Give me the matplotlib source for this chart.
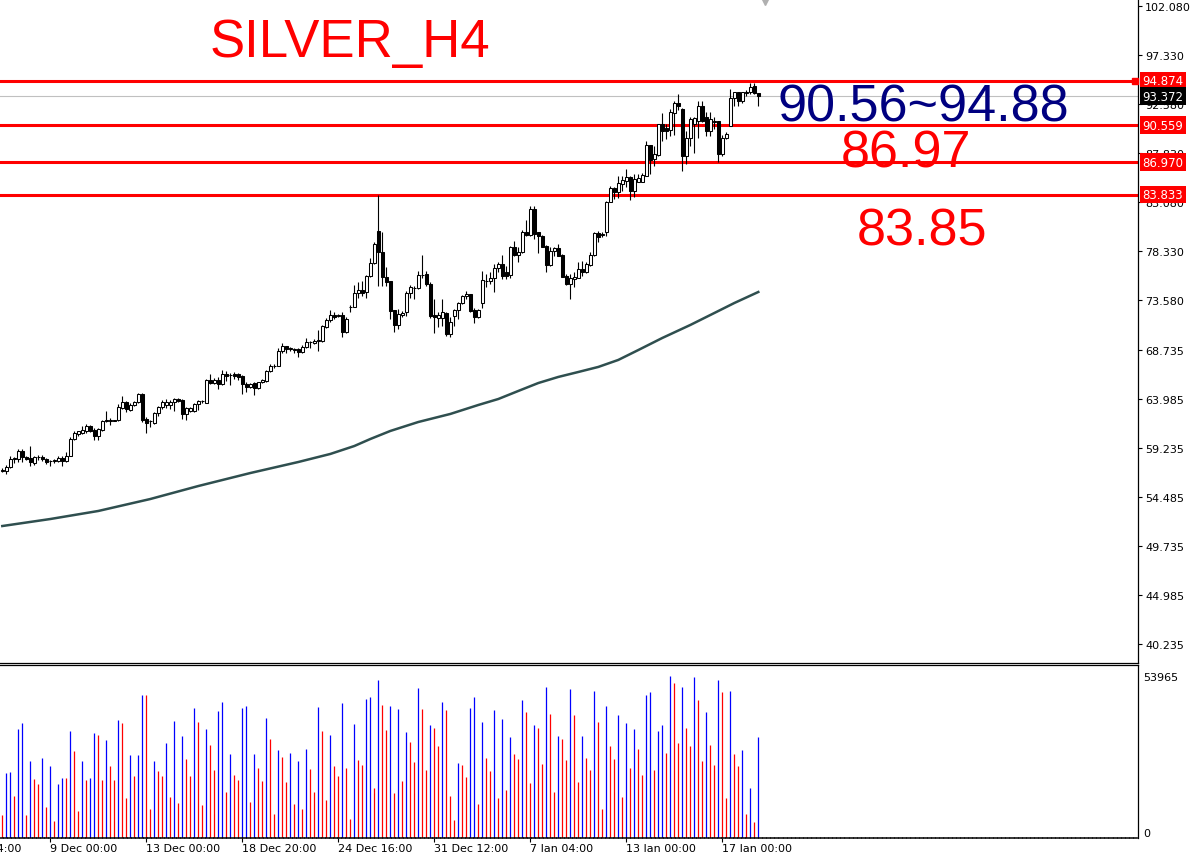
import numpy as np
import matplotlib.pyplot as plt
import matplotlib.transforms as mtransforms

# Candles H4 (open, high, low, close)
opens = [57.05, 56.98, 57.37, 58.20, 58.15, 59.00, 58.40, 58.27, 57.83, 58.35,
         58.40, 58.20, 57.98, 57.95, 58.00, 58.30, 57.98, 58.46, 60.10, 60.60,
         60.73, 60.90, 61.40, 61.05, 60.47, 61.05, 61.90, 61.90, 61.93, 61.93,
         63.10, 63.70, 62.98, 63.40, 63.70, 64.50, 62.10, 61.90, 61.70, 62.65,
         63.20, 63.44, 63.40, 63.70, 64.00, 63.95, 62.60, 62.83, 62.83, 63.50,
         63.77, 63.67, 65.86, 65.57, 65.86, 65.47, 66.45, 66.30, 66.48, 66.45,
         66.22, 65.47, 65.15, 65.57, 65.06, 65.63, 65.80, 66.77, 67.18, 67.25,
         68.64, 69.13, 68.90, 68.78, 68.86, 68.54, 69.10, 69.50, 69.41, 69.66,
         69.67, 71.03, 71.71, 72.20, 72.08, 72.16, 70.55, 72.90, 72.97, 74.26,
         74.58, 74.36, 75.91, 77.17, 80.34, 78.30, 75.87, 75.49, 72.64, 71.22,
         72.20, 72.42, 74.26, 74.80, 74.75, 76.00, 76.13, 75.17, 72.16, 71.83,
         71.83, 72.35, 70.32, 72.09, 72.64, 73.32, 73.97, 74.20, 72.64, 71.93,
         73.32, 75.46, 75.42, 75.74, 76.72, 77.10, 76.36, 76.04, 78.78, 78.01,
         78.24, 80.17, 79.92, 82.44, 80.17, 79.85, 78.88, 77.04, 78.33, 78.66,
         77.98, 75.97, 75.20, 75.65, 75.74, 76.62, 76.30, 77.04, 77.98, 80.11,
         79.92, 80.24, 83.15, 84.44, 84.12, 84.86, 85.19, 85.57, 84.22, 85.09,
         85.09, 85.67, 88.65, 87.29, 87.68, 90.68, 90.26, 90.13, 91.75, 92.72,
         92.14, 87.61, 89.29, 90.68, 91.00, 92.40, 91.33, 90.04, 90.90, 91.00,
         87.77, 89.29, 90.52, 93.17, 93.75, 92.95, 93.72, 93.75, 94.34, 93.69]
highs = [57.30, 57.63, 58.53, 58.40, 59.20, 59.20, 58.50, 59.50, 58.50, 58.55,
         58.55, 58.25, 58.10, 58.20, 58.45, 58.45, 58.85, 60.30, 60.86, 60.95,
         61.44, 61.60, 61.50, 61.18, 61.18, 61.97, 62.83, 62.15, 61.97, 63.54,
         64.30, 63.86, 63.60, 63.86, 64.60, 64.60, 62.25, 61.97, 62.73, 63.38,
         63.95, 64.00, 63.95, 64.10, 64.10, 64.00, 63.20, 63.20, 63.60, 63.95,
         63.95, 65.96, 66.45, 66.00, 66.10, 66.86, 66.77, 66.54, 66.67, 66.54,
         66.35, 65.70, 65.57, 65.70, 65.70, 65.96, 66.86, 67.40, 67.37, 68.96,
         69.45, 69.19, 69.10, 68.96, 68.96, 69.26, 69.93, 69.67, 69.83, 70.74,
         71.19, 71.84, 72.65, 72.42, 72.26, 72.49, 71.94, 73.13, 75.07, 75.39,
         75.49, 76.04, 77.66, 79.21, 83.80, 80.20, 76.78, 75.49, 72.64, 72.74,
         72.50, 74.52, 75.07, 75.00, 76.39, 77.98, 76.39, 75.32, 73.71, 72.48,
         73.71, 72.42, 71.93, 72.74, 73.45, 74.10, 74.45, 74.20, 72.80, 72.74,
         76.39, 76.13, 76.36, 77.10, 77.26, 78.01, 76.88, 78.88, 79.30, 78.72,
         80.43, 81.40, 82.76, 82.70, 80.24, 79.92, 78.95, 78.72, 78.78, 79.04,
         78.08, 76.13, 76.13, 76.36, 77.33, 77.43, 77.26, 78.24, 80.17, 80.34,
         80.17, 83.25, 84.64, 84.54, 85.67, 85.67, 86.32, 85.67, 85.83, 85.83,
         85.90, 89.07, 88.65, 88.58, 90.68, 91.72, 90.68, 92.14, 92.94, 93.59,
         92.20, 90.00, 91.33, 91.39, 92.90, 92.90, 91.80, 91.80, 91.33, 91.00,
         89.61, 89.87, 94.08, 93.82, 93.82, 93.82, 94.00, 94.66, 94.66, 93.69]
lows = [56.90, 56.76, 57.30, 57.85, 57.90, 57.90, 58.10, 57.50, 57.60, 58.05,
        57.95, 57.70, 57.55, 57.80, 57.90, 57.55, 57.90, 58.44, 60.00, 60.45,
        60.63, 60.73, 60.80, 59.99, 59.99, 60.95, 61.76, 61.45, 61.85, 61.86,
        63.05, 62.73, 62.80, 63.30, 63.63, 61.80, 60.70, 61.28, 61.60, 62.35,
        63.05, 63.10, 63.05, 62.80, 63.70, 62.08, 61.98, 62.73, 62.73, 62.95,
        63.63, 63.60, 65.47, 65.47, 64.99, 65.38, 65.80, 65.38, 65.96, 65.90,
        64.50, 64.73, 65.06, 64.44, 64.99, 65.54, 65.70, 66.60, 66.99, 67.19,
        68.48, 68.48, 68.64, 68.45, 68.06, 68.48, 68.96, 68.96, 69.35, 68.70,
        69.58, 70.93, 71.45, 71.77, 71.93, 70.00, 70.38, 72.42, 72.90, 73.78,
        74.03, 73.78, 75.81, 77.10, 74.94, 75.00, 75.00, 71.77, 70.48, 70.80,
        72.00, 72.03, 73.78, 73.70, 74.68, 75.71, 75.00, 71.83, 70.41, 70.96,
        71.06, 70.16, 70.00, 71.12, 71.77, 73.23, 73.71, 72.42, 71.38, 71.83,
        72.83, 74.84, 75.17, 74.42, 76.30, 75.65, 75.65, 75.74, 77.91, 77.33,
        78.17, 79.85, 79.85, 79.53, 78.17, 78.72, 76.30, 76.94, 77.91, 77.85,
        75.81, 75.07, 73.71, 74.84, 75.71, 75.97, 76.20, 76.88, 77.91, 79.20,
        79.70, 79.79, 83.09, 83.41, 83.47, 84.22, 84.54, 83.35, 83.57, 85.03,
        85.03, 85.61, 85.83, 86.64, 87.61, 89.07, 89.23, 89.55, 89.62, 92.00,
        86.16, 86.80, 88.58, 87.90, 89.30, 90.90, 89.55, 89.55, 90.20, 86.97,
        87.61, 89.23, 90.50, 92.46, 92.46, 92.72, 93.43, 93.59, 93.59, 92.46]
closes = [57.10, 57.40, 58.21, 58.25, 59.00, 58.37, 58.20, 57.90, 58.37, 58.40,
          58.17, 57.90, 58.02, 58.10, 58.30, 57.98, 58.46, 60.15, 60.70, 60.86,
          61.05, 61.44, 60.92, 60.40, 61.10, 61.90, 61.95, 61.93, 61.90, 63.20,
          63.70, 63.05, 63.43, 63.76, 64.50, 62.00, 61.70, 61.85, 62.65, 63.20,
          63.76, 63.76, 63.76, 64.00, 63.86, 62.57, 63.10, 63.15, 63.54, 63.86,
          63.80, 65.86, 65.57, 65.86, 65.47, 66.45, 66.22, 66.35, 66.25, 66.12,
          65.47, 65.15, 65.47, 65.06, 65.63, 65.86, 66.77, 67.25, 67.24, 68.64,
          69.13, 68.86, 68.94, 68.82, 68.54, 69.10, 69.51, 69.52, 69.67, 69.70,
          71.06, 71.71, 72.20, 72.00, 72.12, 70.55, 71.77, 72.98, 74.26, 74.58,
          74.30, 75.91, 77.17, 79.05, 78.24, 75.81, 75.39, 72.58, 71.22, 72.26,
          72.40, 74.26, 74.84, 74.82, 76.04, 76.04, 75.17, 72.03, 72.00, 72.19,
          72.42, 70.32, 71.45, 72.64, 73.32, 73.97, 74.20, 72.51, 71.93, 72.64,
          75.55, 75.49, 75.74, 76.68, 77.10, 75.97, 75.97, 78.78, 77.98, 78.30,
          80.17, 79.92, 82.44, 80.01, 79.79, 78.78, 77.04, 78.33, 78.66, 77.91,
          75.87, 75.17, 75.71, 75.81, 76.62, 76.30, 77.10, 77.98, 80.08, 79.75,
          79.98, 83.15, 84.44, 84.06, 84.96, 85.25, 85.51, 84.22, 85.35, 85.41,
          85.73, 88.65, 87.20, 87.77, 90.68, 90.04, 90.04, 91.81, 92.72, 92.40,
          87.61, 89.29, 91.17, 91.23, 92.40, 91.00, 90.04, 91.17, 91.00, 87.77,
          89.29, 89.71, 93.17, 93.75, 92.95, 93.75, 93.78, 94.24, 93.69, 93.37]

# Volume de ticks por candle
volumes = [7659, 21645, 21978, 13986, 36297, 38295, 7659, 25641, 19647, 17982,
           26640, 10323, 23976, 5661, 17982, 19980, 19869, 35631, 28971, 8991,
           25641, 19314, 19980, 34965, 34299, 19314, 32634, 23976, 19314, 39294,
           38295, 13320, 27639, 20646, 27639, 47619, 47508, 9657, 25641, 22311,
           20646, 31635, 13653, 38961, 11655, 33966, 26307, 20646, 43290, 38628,
           10989, 36297, 30969, 22644, 42291, 45288, 15318, 27972, 20979, 19314,
           43290, 43956, 11988, 27972, 23310, 18981, 39960, 32967, 7992, 29304,
           26973, 18648, 28305, 11322, 25641, 9657, 29637, 22977, 15318, 43623,
           35631, 12654, 34299, 23976, 20646, 44955, 23310, 6327, 37962, 25974,
           24309, 46287, 46953, 16650, 52614, 44289, 35964, 43956, 14985, 42957,
           18981, 35298, 31968, 25308, 49950, 42957, 22644, 37629, 36630, 30636,
           45288, 42624, 13986, 5994, 24975, 24309, 20313, 43290, 46953, 11322,
           38628, 26640, 22311, 42624, 13320, 39627, 15984, 33633, 27972, 26307,
           45954, 41958, 18315, 37629, 36630, 24642, 50283, 41292, 15318, 33966,
           32967, 25974, 49617, 40959, 18648, 33966, 26640, 22644, 48951, 38628,
           9657, 43956, 30636, 26307, 40959, 13653, 38295, 23310, 36297, 29637,
           20979, 47619, 48618, 22644, 35631, 37629, 28305, 53965, 51615, 31635,
           50283, 36630, 30636, 53613, 45954, 25641, 41958, 30969, 24309, 52614,
           48618, 13320, 48951, 27972, 23976, 29304, 7992, 16650, 5328, 33633]

# Media movel (pontos lidos ao longo da curva)
ma_idx = [0, 12, 24, 37, 49, 62, 74, 82, 88, 92, 97, 104, 112, 119, 124, 129,
          134, 139, 144, 149, 154, 159, 165, 172, 178, 183, 189]
ma_val = [51.69, 52.37, 53.15, 54.31, 55.57, 56.83, 57.90, 58.68, 59.45, 60.13,
          60.91, 61.78, 62.56, 63.43, 64.01, 64.79, 65.56, 66.15, 66.63, 67.12,
          67.80, 68.76, 69.93, 71.19, 72.35, 73.32, 74.39]

levels = [94.874, 90.559, 86.970, 83.833]
last_price = 93.372

price_ticks = [102.080, 97.330, 92.580, 87.830, 83.080, 78.330, 73.580,
               68.735, 63.985, 59.235, 54.485, 49.735, 44.985, 40.235]
vol_max = 53965

date_idx = [12, 36, 60, 84, 108, 132, 156, 180]
date_labels = ['9 Dec 00:00', '13 Dec 00:00', '18 Dec 20:00', '24 Dec 16:00',
               '31 Dec 12:00', '7 Jan 04:00', '13 Jan 00:00', '17 Jan 00:00']
first_date_idx = -12
first_date_label = '4 Dec 04:00'

o = np.array(opens)
h = np.array(highs)
l = np.array(lows)
c = np.array(closes)
v = np.array(volumes)
idx = np.arange(len(o))

W, H = 1195, 853
fig = plt.figure(figsize=(W / 100, H / 100), dpi=100)
ax = fig.add_axes([0, 1 - 664 / H, 1138 / W, 664 / H])
axv = fig.add_axes([0, 1 - 839 / H, 1138 / W, 173 / H])

xlim = (-0.575, 283.925)

# Candles
ax.vlines(idx, l, h, color='black', linewidth=0.8, zorder=3)
up = c >= o
base = np.minimum(o, c)
alt = np.abs(c - o)
ax.bar(idx[up], alt[up], bottom=base[up], width=0.7, facecolor='white',
       edgecolor='black', linewidth=0.75, zorder=4)
ax.bar(idx[~up], alt[~up], bottom=base[~up], width=0.7, facecolor='black',
       edgecolor='black', linewidth=0.75, zorder=4)

# Media movel
ax.plot(ma_idx, ma_val, color='#2F4F4F', linewidth=1.8, zorder=3)

# Linhas horizontais
ax.axhline(last_price, color='#c0c0c0', linewidth=0.8, zorder=1)
for lv in levels:
    ax.axhline(lv, color='red', linewidth=2.2, zorder=2)

ax.set_xlim(*xlim)
ax.set_ylim(38.405, 102.807)
ax.set_xticks([])
ax.yaxis.tick_right()
ax.set_yticks(price_ticks)
ax.set_yticklabels([f'{p:.3f}' for p in price_ticks])
ax.tick_params(axis='y', length=3, width=0.8, labelsize=8, pad=2, direction='out')
for s in ['top', 'left']:
    ax.spines[s].set_visible(False)
for s in ['right', 'bottom']:
    ax.spines[s].set_linewidth(0.9)

# Etiquetas de preco no eixo direito
trans = mtransforms.blended_transform_factory(ax.transAxes, ax.transData)
for lv in levels:
    ax.text(1.004, lv, f'{lv:.3f}', transform=trans, color='white', fontsize=8.5,
            va='center', ha='left', clip_on=False, zorder=6,
            bbox=dict(boxstyle='square,pad=0.2', facecolor='red', edgecolor='none'))
ax.text(1.004, last_price, f'{last_price:.3f}', transform=trans, color='white',
        fontsize=8.5, va='center', ha='left', clip_on=False, zorder=7,
        bbox=dict(boxstyle='square,pad=0.2', facecolor='black', edgecolor='none'))
ax.plot([0.9975], [levels[0]], transform=trans, marker='s', markersize=4,
        color='red', clip_on=False, zorder=5)

# Marcador de deslocamento do grafico
trans_top = mtransforms.blended_transform_factory(ax.transData, ax.transAxes)
ax.plot([190.7], [1.0], transform=trans_top, marker='v', markersize=9,
        color='#b0b0b0', clip_on=False)

# Textos grandes
fig.text(350 / W, 1 - 57 / H, 'SILVER_H4', color='red', fontsize=38,
         family='Liberation Sans', ha='center', va='baseline')
fig.text(923 / W, 1 - 121 / H, '90.56~94.88', color='#000080', fontsize=37.5,
         family='Liberation Sans', ha='center', va='baseline')
fig.text(906 / W, 1 - 168 / H, '86.97', color='red', fontsize=37.5,
         family='Liberation Sans', ha='center', va='baseline')
fig.text(922 / W, 1 - 246 / H, '83.85', color='red', fontsize=37.5,
         family='Liberation Sans', ha='center', va='baseline')

# Volume
cores = ['red'] + ['blue' if v[i] > v[i - 1] else 'red' for i in range(1, len(v))]
axv.vlines(idx, 0, v, colors=cores, linewidth=0.9)
axv.set_xlim(*xlim)
axv.set_ylim(0, 57626)
axv.yaxis.tick_right()
axv.set_yticks([0, vol_max])
axv.set_yticklabels(['0', str(vol_max)])
axv.get_yticklabels()[0].set_va('bottom')
axv.tick_params(axis='y', length=0, labelsize=8, pad=4)
axv.set_xticks(date_idx)
axv.set_xticklabels(date_labels, ha='left')
axv.tick_params(axis='x', length=3, width=0.8, labelsize=8, pad=0.5, direction='out')
axv.spines['left'].set_visible(False)
axv.spines['top'].set_linewidth(0.9)
axv.spines['right'].set_linewidth(0.9)
axv.spines['bottom'].set_linewidth(1.1)
axv.spines['bottom'].set_linestyle((0, (1.8, 0.9)))

trans_x = mtransforms.blended_transform_factory(axv.transData, axv.transAxes)
axv.text(first_date_idx, -0.028, first_date_label, transform=trans_x, fontsize=8,
         ha='left', va='top', clip_on=False)

plt.savefig('out.png', dpi=100)
